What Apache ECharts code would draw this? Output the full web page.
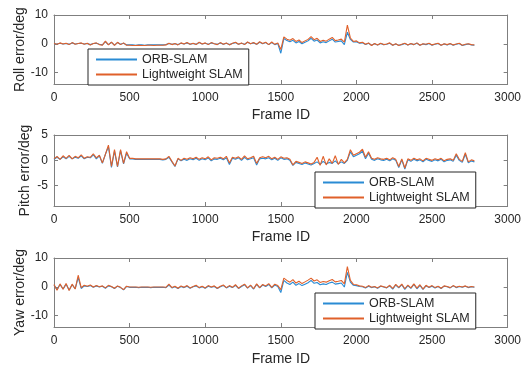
<!DOCTYPE html>
<html>
<head>
<meta charset="utf-8">
<script src="https://cdn.jsdelivr.net/npm/echarts@6/dist/echarts.min.js"></script>
<style>html,body{margin:0;padding:0;background:#fff;}#c{width:524px;height:368px;}</style>
</head>
<body>
<div id="c"></div>
<script>
// ---- data ----
var frames = [0,20,40,60,80,100,120,140,160,180,200,220,240,260,280,300,320,340,360,380,400,420,440,460,480,500,520,540,560,580,600,620,640,660,680,700,720,740,760,780,800,820,840,860,880,900,920,940,960,980,1000,1020,1040,1060,1080,1100,1120,1140,1160,1180,1200,1220,1240,1260,1280,1300,1320,1340,1360,1380,1400,1420,1440,1460,1480,1500,1520,1540,1560,1580,1600,1620,1640,1660,1680,1700,1720,1740,1760,1780,1800,1820,1840,1860,1880,1900,1920,1940,1960,1980,2000,2020,2040,2060,2080,2100,2120,2140,2160,2180,2200,2220,2240,2260,2280,2300,2320,2340,2360,2380,2400,2420,2440,2460,2480,2500,2520,2540,2560,2580,2600,2620,2640,2660,2680,2700,2720,2740,2760,2780];

var xTicks = [0,500,1000,1500,2000,2500,3000];
var rollTicks = [-10,0,10];
var pitchTicks = [-5,0,5];
var yawTicks = [-10,0,10];
var seriesNames = ['ORB-SLAM','Lightweight SLAM'];

var rollORB = [0.0,-0.1,0.2,-0.1,0.1,-0.2,0.3,-0.1,0.1,0.2,-0.1,0.1,-0.3,0.1,0.2,-0.2,
 -0.4,0.7,-0.3,0.5,-0.5,0.4,
 -0.2,0.2,-0.4,
 -0.4,-0.4,-0.5,-0.4,-0.4,-0.5,-0.4,-0.4,-0.4,-0.4,-0.4,-0.4,-0.3,
 0.1,-0.2,0.0,-0.3,0.2,-0.1,0.3,-0.2,0.1,-0.2,0.4,-0.1,0.2,-0.2,0.3,0.0,-0.2,0.3,-0.2,0.2,-0.3,0.1,0.4,-0.2,0.2,-0.2,0.5,0.0,0.3,-0.2,0.5,0.0,0.4,-0.3,0.4,-0.3,0.1,
 -3.3,1.8,
 1.1,0.7,1.2,0.3,0.8,0.0,0.5,1.0,1.9,0.9,1.3,0.3,0.7,0.4,1.0,1.6,0.6,0.8,1.0,-0.3,
 4.0,1.5,0.6,0.7,0.2,0.3,
 -0.3,0.2,-0.5,0.0,-0.4,0.1,-0.3,-0.2,0.2,-0.5,-0.1,-0.5,-0.3,0.1,-0.4,0.0,-0.3,0.2,-0.5,-0.1,-0.3,0.1,-0.5,-0.2,0.1,-0.5,-0.1,-0.4,0.0,-0.5,-0.2,0.1,-0.6,-0.3,-0.1,-0.4,-0.5];

var rollLW = [0.1,-0.2,0.3,-0.1,0.2,-0.3,0.4,-0.2,0.1,0.3,-0.2,0.2,-0.4,0.1,0.3,-0.3,
 -0.5,0.9,-0.4,0.6,-0.6,0.5,
 -0.3,0.3,-0.5,
 -0.5,-0.6,-0.6,-0.5,-0.6,-0.6,-0.5,-0.5,-0.6,-0.5,-0.5,-0.5,-0.4,
 0.2,-0.3,0.1,-0.4,0.3,-0.1,0.4,-0.2,0.2,-0.3,0.5,-0.1,0.3,-0.3,0.4,0.0,-0.3,0.4,-0.2,0.3,-0.4,0.2,0.5,-0.2,0.3,-0.3,0.6,0.0,0.4,-0.2,0.7,0.1,0.5,-0.3,0.6,-0.2,0.3,
 -2.0,2.4,
 1.6,1.2,1.8,0.8,1.3,0.4,1.0,1.5,2.5,1.4,1.9,0.8,1.2,0.9,1.6,2.2,1.1,1.3,1.6,0.6,
 6.5,2.0,0.8,1.0,0.3,0.5,
 -0.2,0.3,-0.6,0.1,-0.4,0.2,-0.3,-0.1,0.3,-0.5,0.0,-0.6,-0.2,0.2,-0.4,0.1,-0.3,0.3,-0.5,0.0,-0.2,0.2,-0.4,-0.1,0.2,-0.5,0.0,-0.3,0.1,-0.4,-0.1,0.2,-0.5,-0.2,0.0,-0.3,-0.4];

var pitchORB = [0.2,0.6,0.2,0.7,0.3,0.8,0.3,0.6,0.4,0.9,0.3,0.6,0.5,
 1.1,0.3,0.9,-0.6,1.2,2.7,-1.4,1.8,-1.3,1.9,-0.7,1.4,0.3,
 0.3,0.2,0.2,0.2,0.2,0.2,0.2,0.2,0.2,0.2,0.1,0.2,
 0.6,-0.3,-1.2,0.3,-0.1,
 0.2,0.0,0.3,0.1,0.4,0.0,0.3,0.1,0.5,-0.1,0.3,0.2,0.4,0.1,0.5,-0.8,0.4,0.2,0.5,0.0,0.6,0.1,0.3,0.5,-0.9,0.3,0.4,
 0.3,0.5,0.1,0.4,0.0,0.5,0.2,0.3,0.0,
 -1.0,
 -0.4,-0.6,-0.8,-0.5,-0.7,-0.9,-0.6,
 -0.3,-0.8,-0.2,-0.7,-0.4,-0.6,-0.1,-0.7,-0.3,-0.6,
 0.0,1.7,0.7,1.0,1.3,1.8,0.3,1.4,
 0.2,0.0,0.3,0.1,0.0,0.2,-0.1,0.3,0.0,
 -1.4,0.1,-1.7,
 0.1,-0.2,0.2,-0.1,0.1,-0.3,0.2,0.0,-0.2,0.1,-0.1,0.2,-0.3,0.0,0.1,-0.2,
 1.0,0.0,-0.4,1.2,-0.5,-0.1,-0.3];

var pitchLW = [0.3,0.8,0.2,0.9,0.4,1.0,0.3,0.8,0.5,1.1,0.4,0.7,0.6,
 1.3,0.5,1.0,-0.5,1.2,3.0,-1.2,2.1,-1.2,2.1,-0.6,1.7,0.4,
 0.4,0.3,0.3,0.3,0.3,0.3,0.3,0.3,0.3,0.3,0.2,0.3,
 0.8,-0.2,-1.1,0.4,0.0,
 0.4,0.2,0.5,0.3,0.6,0.2,0.5,0.3,0.7,0.1,0.5,0.4,0.6,0.3,0.8,-0.5,0.6,0.4,0.7,0.2,0.9,0.3,0.5,0.8,-0.6,0.5,0.7,
 0.5,0.8,0.3,0.6,0.2,0.7,0.4,0.5,0.2,
 -0.9,
 -0.2,-0.4,-0.6,-0.3,-0.5,-0.7,-0.4,
 0.6,-1.0,0.8,-0.9,0.3,-0.6,0.9,-0.8,0.2,-0.5,
 0.2,2.1,1.0,1.3,1.6,2.2,0.6,1.7,
 0.4,0.2,0.5,0.3,0.2,0.4,0.1,0.5,0.2,
 -1.2,0.3,-1.5,
 0.3,0.0,0.4,0.1,0.3,-0.1,0.4,0.2,0.0,0.3,0.1,0.4,-0.1,0.2,0.3,0.0,
 1.3,0.2,-0.2,1.5,-0.3,0.1,-0.1];

var yawORB = [0.6,-1.0,0.8,-0.8,0.9,-1.1,0.7,-0.7,
 3.2,
 -0.6,0.3,0.1,0.4,-0.2,0.3,-0.1,0.2,-0.5,0.3,0.0,-0.6,0.2,-0.3,-1.1,0.1,
 -0.2,-0.2,-0.2,-0.3,-0.2,-0.2,-0.2,-0.3,-0.2,-0.2,-0.2,-0.2,-0.3,
 0.6,
 -0.4,0.0,-0.6,0.1,-0.3,0.2,-0.5,0.0,0.3,-0.4,0.0,-0.5,0.2,-0.2,0.1,-0.6,0.0,0.4,-0.4,0.2,-0.3,0.5,-0.6,0.1,0.7,-0.5,0.4,-0.8,0.8,-0.4,0.6,
 0.1,0.8,-0.4,0.6,0.1,
 -2.0,2.2,
 1.3,0.8,1.6,0.5,1.1,0.4,0.9,1.4,2.2,1.2,1.5,0.7,1.0,0.8,1.3,1.6,0.9,1.1,1.3,
 -0.1,5.0,
 1.6,0.5,0.4,0.1,
 0.0,-0.4,0.2,-0.3,0.0,-0.5,0.2,-0.1,-0.4,0.3,-0.8,0.6,-0.4,0.7,-0.9,0.4,-0.6,0.8,-0.7,0.5,-0.9,0.3,-0.3,0.2,-0.4,0.1,-0.6,0.2,0.0,-0.4,0.3,-0.3,0.1,-0.2,0.2,-0.3,0.0,-0.2];

var yawLW = [0.8,-1.2,1.0,-0.9,1.1,-1.3,0.9,-0.8,
 4.0,
 -0.3,0.5,0.2,0.6,-0.1,0.4,0.0,0.3,-0.4,0.5,0.1,-0.5,0.3,-0.2,-1.0,0.2,
 -0.1,-0.1,-0.1,-0.2,-0.1,-0.1,-0.1,-0.2,-0.1,-0.1,-0.1,-0.1,-0.2,
 0.9,
 -0.3,0.2,-0.5,0.3,-0.2,0.4,-0.4,0.1,0.5,-0.3,0.2,-0.4,0.4,-0.1,0.3,-0.5,0.2,0.6,-0.3,0.4,-0.2,0.7,-0.5,0.3,0.9,-0.4,0.6,-0.7,1.0,-0.3,0.8,
 0.3,1.1,-0.2,0.9,0.4,
 -1.0,3.0,
 2.2,1.6,2.5,1.3,1.9,1.1,1.7,2.3,3.0,2.0,2.4,1.5,1.8,1.6,2.1,2.5,1.7,1.9,2.2,
 1.0,7.0,
 2.2,0.8,0.7,0.3,
 0.2,-0.3,0.4,-0.2,0.1,-0.4,0.3,0.0,-0.3,0.5,-0.6,0.8,-0.2,0.9,-0.7,0.6,-0.4,1.0,-0.5,0.7,-0.8,0.5,-0.2,0.4,-0.3,0.2,-0.5,0.3,0.1,-0.3,0.4,-0.2,0.2,-0.1,0.3,-0.2,0.1,-0.1];

// ---- chart ----
var FONT = 'Liberation Sans, Arial, Helvetica, sans-serif';
var TXT = '#262626';
var AX = '#7f7f7f';
var BLUE = '#2a8bd4';
var ORANGE = '#e0602a';

function pairs(vals){ return frames.map(function(f,i){ return [f, vals[i]]; }); }
function plain(v){ return String(v); }

var grids = [
  {left:54, top:15, width:456, height:69},
  {left:54, top:135, width:456, height:71},
  {left:54, top:258, width:456, height:69}
];
var yInfo = [
  {name:'Roll error/deg', min:-14, max:10, ticks:rollTicks, gap:27},
  {name:'Pitch error/deg', min:-9, max:5, ticks:pitchTicks, gap:22},
  {name:'Yaw error/deg', min:-14, max:10, ticks:yawTicks, gap:27}
];
var xGaps = [24, 24, 25];

var xAxes = [], yAxes = [];
grids.forEach(function(g, k){
  xAxes.push({
    gridIndex:k, type:'value', position:'bottom', min:0, max:3000,
    axisLine:{show:true, onZero:false, lineStyle:{color:AX, width:1}},
    axisTick:{show:true, inside:true, length:4, lineStyle:{color:AX}, customValues:xTicks},
    axisLabel:{show:true, fontSize:12, color:TXT, fontFamily:FONT, margin:8, customValues:xTicks, formatter:plain},
    splitLine:{show:false},
    name:'Frame ID', nameLocation:'middle', nameGap:xGaps[k],
    nameTextStyle:{fontSize:14, color:TXT, fontFamily:FONT}
  });
  xAxes.push({
    gridIndex:k, type:'value', position:'top', min:0, max:3000,
    axisLine:{show:true, onZero:false, lineStyle:{color:AX, width:1}},
    axisTick:{show:true, inside:true, length:4, lineStyle:{color:AX}, customValues:xTicks},
    axisLabel:{show:false},
    splitLine:{show:false}
  });
  var yi = yInfo[k];
  yAxes.push({
    gridIndex:k, type:'value', position:'left', min:yi.min, max:yi.max,
    axisLine:{show:true, onZero:false, lineStyle:{color:AX, width:1}},
    axisTick:{show:true, inside:true, length:4, lineStyle:{color:AX}, customValues:yi.ticks},
    axisLabel:{show:true, fontSize:12, color:TXT, fontFamily:FONT, margin:6, customValues:yi.ticks, formatter:plain},
    splitLine:{show:false},
    name:yi.name, nameLocation:'middle', nameGap:yi.gap, nameMoveOverlap:false,
    nameTextStyle:{fontSize:14, color:TXT, fontFamily:FONT}
  });
  yAxes.push({
    gridIndex:k, type:'value', position:'right', min:yi.min, max:yi.max,
    axisLine:{show:true, onZero:false, lineStyle:{color:AX, width:1}},
    axisTick:{show:true, inside:true, length:4, lineStyle:{color:AX}, customValues:yi.ticks},
    axisLabel:{show:false},
    splitLine:{show:false}
  });
});

var dataSets = [[rollORB, rollLW],[pitchORB, pitchLW],[yawORB, yawLW]];
var series = [];
dataSets.forEach(function(ds, k){
  series.push({
    name:seriesNames[0], type:'line', xAxisIndex:2*k, yAxisIndex:2*k,
    data:pairs(ds[0]), showSymbol:false, symbol:'none',
    lineStyle:{color:BLUE, width:1.1}, itemStyle:{color:BLUE}, z:2
  });
  series.push({
    name:seriesNames[1], type:'line', xAxisIndex:2*k, yAxisIndex:2*k,
    data:pairs(ds[1]), showSymbol:false, symbol:'none',
    lineStyle:{color:ORANGE, width:1.1}, itemStyle:{color:ORANGE}, z:3
  });
});

var legendPos = [{left:88, top:49},{left:315, top:172},{left:315, top:293}];
var legends = legendPos.map(function(p){
  return {
    data:seriesNames, orient:'vertical', left:p.left, top:p.top,
    icon:'rect', itemWidth:41, itemHeight:2, itemGap:2,
    padding:[4,6,4,8],
    backgroundColor:'#fff', borderColor:'#262626', borderWidth:1, borderRadius:0,
    textStyle:{fontSize:12.5, color:TXT, fontFamily:FONT},
    selectedMode:false, z:10
  };
});

var chart = echarts.init(document.getElementById('c'), null, {renderer:'canvas'});
chart.setOption({
  backgroundColor:'#fff',
  animation:false,
  grid:grids,
  xAxis:xAxes,
  yAxis:yAxes,
  legend:legends,
  series:series
});
</script>
</body>
</html>
